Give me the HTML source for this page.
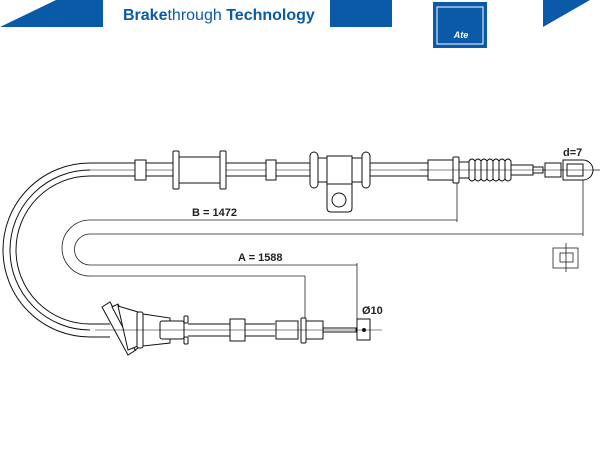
<!DOCTYPE html>
<html><head><meta charset="utf-8"><style>
html,body{margin:0;padding:0;background:#fff;}
svg{display:block;}
</style></head><body>
<svg width="600" height="450" viewBox="0 0 600 450" xmlns="http://www.w3.org/2000/svg" font-family="Liberation Sans, sans-serif">
<polygon points="0,27 56,0 103,0 103,27" fill="#0a5aa8"/>
<text x="123" y="20" font-size="16" fill="#0a5aa8"><tspan font-weight="bold">Brake</tspan>through <tspan font-weight="bold">Technology</tspan></text>
<rect x="330" y="0" width="62" height="27" fill="#0a5aa8"/>
<rect x="433" y="2" width="54" height="46" fill="#0a5aa8"/>
<rect x="437" y="7" width="46" height="37" fill="none" stroke="#fff" stroke-width="1"/>
<text x="461" y="38" font-size="9" font-style="italic" font-weight="bold" fill="#fff" text-anchor="middle">Ate</text>
<polygon points="543,0 590,0 543,27" fill="#0a5aa8"/>

<g fill="none" stroke="#111" stroke-width="1">
<path d="M 135,163 L 90,163 A 87,87 0 0 0 90,337 L 110,337"/>
<path d="M 135,176 L 90,176 A 74,74 0 0 0 90,324 L 110,324"/>
<path d="M 90,170 A 80,80 0 0 0 90,330"/>
<line x1="135" y1="163" x2="428" y2="163"/>
<line x1="135" y1="176" x2="428" y2="176"/>
</g>
<line x1="90" y1="170" x2="600" y2="170" stroke="#111" stroke-width="0.6"/>
<g fill="#fff" stroke="#111" stroke-width="1">
<rect x="135" y="160" width="11" height="20"/>
<rect x="178" y="157" width="44" height="26"/>
<rect x="173" y="151" width="6" height="38" rx="1"/>
<rect x="220" y="151" width="6" height="38" rx="1"/>
<rect x="266" y="160" width="10" height="20"/>
<path d="M327,178 L327,208 Q327,212 331,212 L348,212 Q352,212 352,208 L352,178"/>
<circle cx="339" cy="200" r="7"/>
<rect x="317" y="158" width="48" height="24"/>
<rect x="310" y="152" width="8" height="36" rx="4"/>
<rect x="362" y="152" width="8" height="36" rx="4"/>
<rect x="327" y="156" width="25" height="28"/>
<rect x="428" y="160" width="25" height="20"/>
<rect x="453" y="157" width="6" height="26" rx="1"/>
<rect x="459" y="162" width="10" height="16"/>
<path d="M469,161 q3,-4 6,0 q3,-4 6,0 q3,-4 6,0 q3,-4 6,0 q3,-4 6,0 q3,-4 6,0 q3,-4 6,0 L511,179 q-3,4 -6,0 q-3,4 -6,0 q-3,4 -6,0 q-3,4 -6,0 q-3,4 -6,0 q-3,4 -6,0 q-3,4 -6,0 Z"/>
<path d="M475,161 v18 M481,161 v18 M487,161 v18 M493,161 v18 M499,161 v18 M505,161 v18" fill="none"/>
<rect x="511" y="165" width="22" height="10"/>
<rect x="533" y="167" width="10" height="6"/>
<rect x="545" y="163" width="16" height="14"/>
<path d="M563,160 L583,160 A10,10 0 0 1 583,180 L563,180 Z"/>
<rect x="567" y="164" width="16" height="12"/>
</g>
<line x1="420" y1="170" x2="600" y2="170" stroke="#111" stroke-width="0.5"/>
<g fill="none" stroke="#222" stroke-width="0.8">
<path d="M457,183 L457,222 M457,220 L90,220 A28,28 0 0 0 90,276 L305,276"/>
<path d="M583,180 L583,236 M583,234 L90,234 A15.5,15.5 0 0 0 90,265 L357,265"/>
<line x1="357" y1="263" x2="357" y2="320"/>
<line x1="305" y1="276" x2="305" y2="320"/>
<rect x="553" y="248" width="25" height="20"/>
<rect x="560" y="253" width="13" height="9"/>
<line x1="566" y1="243" x2="566" y2="272"/>
</g>
<g fill="#fff" stroke="#111" stroke-width="1">
<path d="M102,307 L110,302 L136,350 L128,355 Z"/>
<path d="M112,307 L118,304 L141,346 L135,350 Z"/>
<path d="M118,306 L138,312 L138,346 L128,350 Z"/>
<rect x="137" y="312" width="6" height="36" rx="2"/>
<path d="M143,314 L170,318 L170,343 L143,346 Z"/>
<rect x="160" y="321" width="24" height="18" rx="2"/>
<rect x="184" y="316" width="4" height="7" rx="1"/>
<rect x="184" y="337" width="4" height="7" rx="1"/>
<line x1="188" y1="324" x2="230" y2="324"/>
<line x1="188" y1="336" x2="230" y2="336"/>
<line x1="245" y1="324" x2="275" y2="324"/>
<line x1="245" y1="336" x2="275" y2="336"/>
<rect x="230" y="319" width="15" height="22"/>
<rect x="276" y="321" width="22" height="18"/>
<rect x="301" y="318" width="5" height="25" rx="1"/>
<rect x="306" y="321" width="17" height="18"/>
<rect x="323" y="328" width="33" height="4"/>
<rect x="357" y="319" width="13" height="21"/>
<circle cx="364" cy="330" r="1.5" fill="#111"/>
</g>
<line x1="95" y1="330" x2="382" y2="330" stroke="#111" stroke-width="0.5"/>
<g font-size="11" font-weight="bold" fill="#222">
<text x="192" y="216">B = 1472</text>
<text x="238" y="261">A = 1588</text>
<text x="563" y="156">d=7</text>
<text x="362" y="314">Ø10</text>
</g>
</svg>
</body></html>
